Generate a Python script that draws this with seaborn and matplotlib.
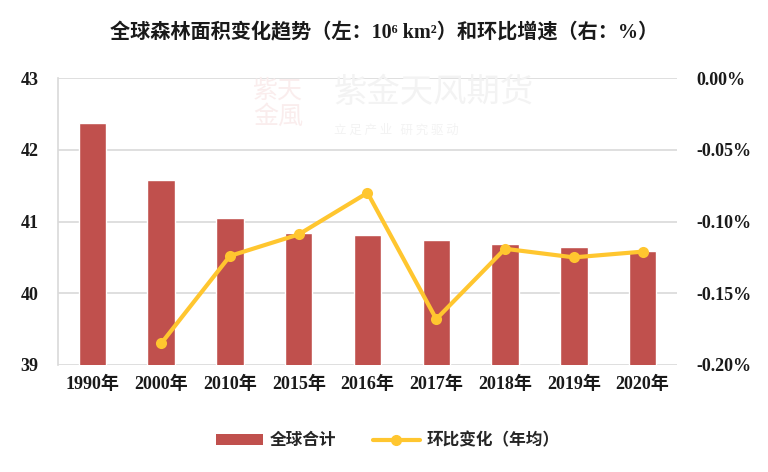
import numpy as np
import pandas as pd
import matplotlib.pyplot as plt
import matplotlib.ticker as mticker
from matplotlib.patches import Patch
from matplotlib.lines import Line2D
import seaborn as sns

# Data
years = ['1990年', '2000年', '2010年', '2015年', '2016年', '2017年', '2018年', '2019年', '2020年']
forest_area = [42.37, 41.58, 41.05, 40.84, 40.81, 40.74, 40.68, 40.64, 40.59]
growth_rate = [np.nan, -0.185, -0.124, -0.109, -0.080, -0.168, -0.119, -0.125, -0.121]

df = pd.DataFrame({'year': years, 'area': forest_area, 'rate': growth_rate,
                   'pos': range(len(years))})

sns.set_theme(style='white')
FONTS = ['Liberation Serif', 'Noto Sans CJK SC', 'DejaVu Sans']
plt.rcParams['font.family'] = FONTS

BAR_COLOR = '#C0504D'
LINE_COLOR = '#FFC62F'
GRID = '#D9D9D9'

fig = plt.figure(figsize=(7.68, 4.72), dpi=100)
ax = fig.add_axes([0.0755, 0.2267, 0.806, 0.608])

sns.barplot(data=df, x='year', y='area', color=BAR_COLOR, width=0.4,
            saturation=1, ax=ax, zorder=2)
ax.set_ylim(39, 43)
ax.set_yticks([39, 40, 41, 42, 43])
ax.set_xlim(-0.5, len(years) - 0.5)
ax.grid(axis='y', color=GRID, linewidth=1.2, zorder=0)
ax.set_axisbelow(True)
ax.set_xlabel('')
ax.set_ylabel('')
for side in ['top', 'right', 'bottom']:
    ax.spines[side].set_visible(False)
ax.spines['left'].set_color(GRID)
ax.spines['left'].set_linewidth(1.2)
ax.tick_params(axis='both', length=0)
ax.tick_params(axis='y', pad=14, labelsize=13)
ax.tick_params(axis='x', pad=8, labelsize=13)
for lab in ax.get_xticklabels() + ax.get_yticklabels():
    lab.set_fontweight('bold')
    lab.set_color('#1a1a1a')

ax2 = ax.twinx()
sns.lineplot(data=df.dropna(), x='pos', y='rate', color=LINE_COLOR, linewidth=3,
             marker='o', markersize=8, markeredgewidth=0, ax=ax2, zorder=3)
ax2.set_ylim(-0.20, 0.0)
ax2.set_yticks([-0.20, -0.15, -0.10, -0.05, 0.0])
ax2.yaxis.set_major_formatter(mticker.FuncFormatter(lambda v, _: f'{v:.2f}%'))
ax2.set_xlim(-0.5, len(years) - 0.5)
ax2.set_ylabel('')
ax2.set_xlabel('')
for side in ax2.spines:
    ax2.spines[side].set_visible(False)
ax2.tick_params(axis='y', length=0, pad=14, labelsize=13)
for lab in ax2.get_yticklabels():
    lab.set_fontweight('bold')
    lab.set_color('#1a1a1a')

# Watermark
fig.text(0.435, 0.805, '紫金天风期货', fontsize=24, color='#F3F3F3',
         family=['Noto Sans CJK SC'], ha='left', va='center', zorder=0)
fig.text(0.435, 0.725, '立 足 产 业   研 究 驱 动', fontsize=9, color='#F3F3F3',
         family=['Noto Sans CJK SC'], ha='left', va='center', zorder=0)
fig.text(0.33, 0.78, '紫天\n金風', fontsize=18, color='#FAEDED', linespacing=1.0,
         family=['Noto Sans CJK SC'], ha='left', va='center', zorder=0)

fig.text(0.5, 0.93, '全球森林面积变化趋势（左：10⁶ km²）和环比增速（右：%）',
         ha='center', va='center', fontsize=14.5, fontweight='bold', color='#1a1a1a')

handles = [Patch(facecolor=BAR_COLOR, edgecolor='none'),
           Line2D([0], [0], color=LINE_COLOR, linewidth=3, marker='o', markersize=7)]
fig.legend(handles, ['全球合计', '环比变化（年均）'], loc='center',
           bbox_to_anchor=(0.505, 0.067), ncol=2, frameon=False,
           prop={'family': ['Noto Sans CJK SC'], 'weight': 'bold', 'size': 12},
           handlelength=2.8, columnspacing=2.2, handletextpad=0.4)

plt.savefig('out.png', dpi=100)
plt.close()
